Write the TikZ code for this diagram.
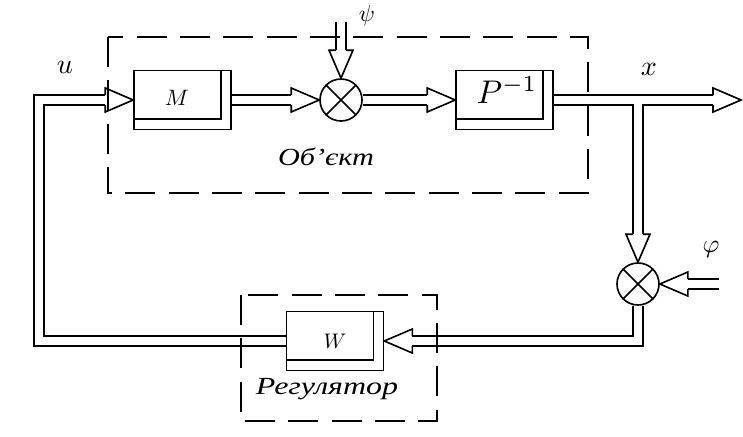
\documentclass[tikz,border=0pt]{standalone}
\usepackage{fontspec}
\setmainfont{Liberation Serif}
\usepackage{graphicx}
\usetikzlibrary{calc}

\tikzset{
  blok/.style={draw, minimum width=29.1mm, minimum height=17.7mm, inner sep=0pt,
    path picture={\draw ([xshift=-3mm]path picture bounding box.north east)
      |- ([yshift=3.2mm]path picture bounding box.south west);}},
  summ/.style={draw, circle, minimum size=12.6mm, inner sep=0pt,
    path picture={\draw (path picture bounding box.north west) -- (path picture bounding box.south east)
      (path picture bounding box.north east) -- (path picture bounding box.south west);}},
  dbl/.style={double, double distance=2.5mm},
  grp/.style={dash pattern=on 9mm off 4mm},
  lbl/.style={font=\fontsize{21}{24}\selectfont\itshape},
  pics/dhead/.style={code={\draw (-28,-5) -- (-28,-12) -- (0,0) -- (-28,12) -- (-28,5);}},
}

\begin{document}
\begin{tikzpicture}[x=0.3mm, y={(0,-0.3mm)}, line width=1.4pt]
  \useasboundingbox (0,0) rectangle (743,437);

  \node[blok, label={[xshift=-1.65mm,yshift=0.75mm]center:{\scalebox{1.9}{$M$}}}] (M) at (182.5,100) {};
  \node[summ] (sum1) at (341,100) {};
  \node[blok, label={[xshift=0.75mm,yshift=3mm]center:{\scalebox{2.8}{$P^{-1}$}}}] (P) at (504.5,100) {};
  \node[summ] (sum2) at (638,284) {};
  \node[blok, label={center:{\scalebox{1.8}{$W$}}}] (W) at (335,341) {};

  \coordinate (psiin) at (341,22);
  \coordinate (xout) at (741,100);
  \coordinate (br) at (638,100);
  \coordinate (phiin) at (719,284);
  \coordinate (dn) at (638,341);
  \coordinate (lb) at (39,341);
  \coordinate (lt) at (39,100);

  \draw[dbl] (M.east) -- ($(sum1.west)+(-28,0)$);
  \draw[dbl] (psiin) -- ($(sum1.north)+(0,-28)$);
  \draw[dbl] (sum1.east) -- ($(P.west)+(-28,0)$);
  \draw[dbl] (P.east) -- ($(xout)+(-28,0)$) (br) -- ($(sum2.north)+(0,-28)$);
  \draw[dbl] (phiin) -- ($(sum2.east)+(28,0)$);
  \draw[dbl] (sum2.south) -- (dn) -- ($(W.east)+(28,0)$);
  \draw[dbl] (W.west) -- (lb) -- (lt) -- ($(M.west)+(-28,0)$);

  \pic at (M.west) {dhead};
  \pic at (sum1.west) {dhead};
  \pic[rotate=-90] at (sum1.north) {dhead};
  \pic at (P.west) {dhead};
  \pic at (xout) {dhead};
  \pic[rotate=-90] at (sum2.north) {dhead};
  \pic[rotate=180] at (sum2.east) {dhead};
  \pic[rotate=180] at (W.east) {dhead};

  \draw[grp] (108,37) rectangle (588,193);
  \draw[grp] (241,295) rectangle (437,421);

  \node (ulab) at (65,67) {\scalebox{2.4}{$u$}};
  \node (psilab) at (367,16) {\scalebox{2}{$\psi$}};
  \node (xlab) at (649,69) {\scalebox{2.4}{$x$}};
  \node (philab) at (711,249) {\scalebox{2.2}{$\varphi$}};
  \node[lbl] (obj) at (326,157) {\scalebox{1.23}[1]{Об'єкт}};
  \node[lbl] (reg) at (327,389) {\scalebox{1.3}[1]{Регулятор}};
\end{tikzpicture}
\end{document}
